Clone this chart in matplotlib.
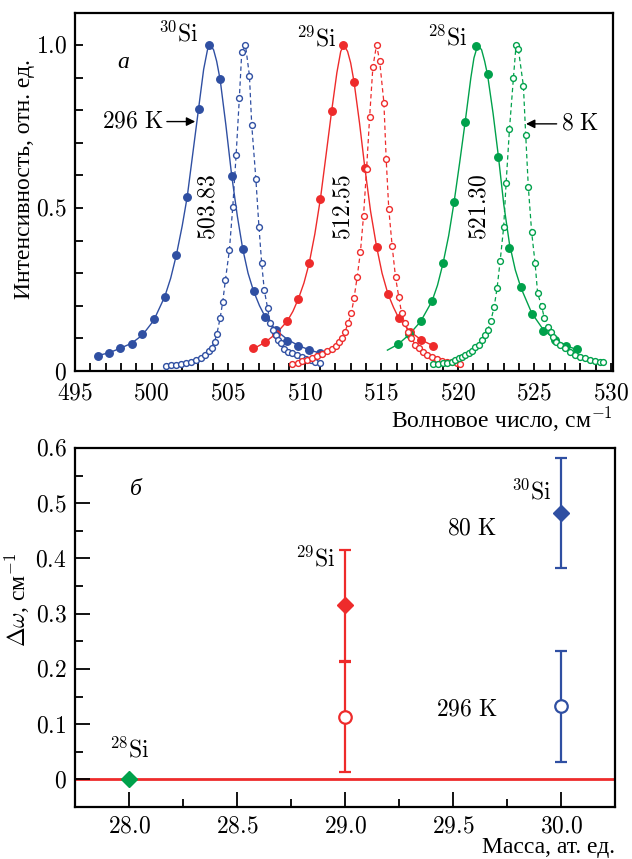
import matplotlib
matplotlib.use("Agg")
import matplotlib.pyplot as plt
from matplotlib.ticker import MultipleLocator, FixedLocator, FuncFormatter

plt.rcParams['mathtext.fontset'] = 'cm'
plt.rcParams['font.family'] = ['Liberation Serif', 'DejaVu Serif']

# ---------------- data: panel (a) ----------------
si30_296_x = [496.47, 497.23, 497.97, 498.69, 499.40, 500.14, 500.86, 501.62, 502.33, 503.07,
              503.78, 504.48, 505.23, 505.95, 506.66, 507.41, 508.12, 508.86, 509.59, 510.29, 510.98]
si30_296_y = [0.047, 0.056, 0.072, 0.083, 0.112, 0.158, 0.226, 0.356, 0.533, 0.804,
              1.000, 0.895, 0.598, 0.373, 0.245, 0.167, 0.126, 0.093, 0.077, 0.064, 0.054]
si30_fit_x = [496.47, 497.23, 497.97, 498.69, 499.40, 500.14, 500.86, 501.25, 501.62, 502.00,
              502.33, 502.70, 503.07, 503.40, 503.65, 503.83, 504.05, 504.25, 504.48, 504.85,
              505.23, 505.60, 505.95, 506.30, 506.66, 507.05, 507.41, 508.12, 508.86, 509.59,
              510.29, 510.98]
si30_fit_y = [0.047, 0.056, 0.070, 0.085, 0.110, 0.155, 0.228, 0.285, 0.356, 0.445,
              0.535, 0.670, 0.805, 0.925, 0.985, 1.000, 0.985, 0.950, 0.893, 0.755,
              0.600, 0.475, 0.375, 0.300, 0.245, 0.200, 0.167, 0.125, 0.097, 0.078,
              0.065, 0.055]
si30_8_x = [500.96, 501.29, 501.62, 501.94, 502.27, 502.59, 502.92, 503.24, 503.50, 503.72,
            503.92, 504.11, 504.26, 504.48, 504.65, 504.82, 505.08, 505.30, 505.52, 505.73,
            505.89, 506.13, 506.39, 506.54, 506.81, 507.01, 507.19, 507.36, 507.58, 507.75,
            507.95, 508.12, 508.27, 508.45, 508.66, 508.90, 509.20, 509.50, 509.80, 510.10,
            510.40, 510.70, 510.98]
si30_8_y = [0.015, 0.017, 0.019, 0.021, 0.024, 0.028, 0.033, 0.040, 0.049, 0.060,
            0.072, 0.090, 0.113, 0.163, 0.213, 0.279, 0.370, 0.502, 0.662, 0.836,
            0.979, 1.000, 0.906, 0.755, 0.589, 0.443, 0.330, 0.248, 0.192, 0.146,
            0.126, 0.110, 0.095, 0.085, 0.067, 0.058, 0.054, 0.048, 0.043, 0.038,
            0.033, 0.029, 0.025]

si29_296_x = [506.65, 507.41, 508.12, 508.86, 509.59, 510.29, 511.03, 511.76, 512.50, 513.22,
              513.93, 514.69, 515.43, 516.14, 516.88, 517.62, 518.36]
si29_296_y = [0.070, 0.090, 0.113, 0.153, 0.222, 0.330, 0.529, 0.798, 1.000, 0.887,
              0.622, 0.381, 0.236, 0.162, 0.121, 0.095, 0.078]
si29_fit_x = [506.65, 507.41, 508.12, 508.86, 509.23, 509.59, 509.95, 510.29, 510.66, 511.03,
              511.40, 511.76, 512.10, 512.35, 512.55, 512.80, 513.00, 513.22, 513.58, 513.93,
              514.30, 514.69, 515.05, 515.43, 515.80, 516.14, 516.88, 517.62, 518.36, 518.50]
si29_fit_y = [0.068, 0.088, 0.114, 0.153, 0.183, 0.222, 0.270, 0.330, 0.420, 0.530,
              0.665, 0.798, 0.915, 0.980, 1.000, 0.980, 0.945, 0.887, 0.760, 0.622,
              0.490, 0.382, 0.300, 0.237, 0.195, 0.162, 0.121, 0.095, 0.078, 0.075]
si29_8_x = [509.20, 509.53, 509.85, 510.18, 510.50, 510.83, 511.16, 511.48, 511.81, 512.06,
            512.26, 512.46, 512.63, 512.83, 513.05, 513.22, 513.42, 513.64, 513.84, 514.04,
            514.24, 514.45, 514.69, 514.89, 515.17, 515.32, 515.49, 515.71, 515.93, 516.14,
            516.32, 516.53, 516.75, 516.97, 517.23, 517.45, 517.71, 517.98, 518.31, 518.64,
            518.96, 519.29, 519.61, 519.94, 520.16]
si29_8_y = [0.021, 0.025, 0.030, 0.034, 0.039, 0.045, 0.052, 0.060, 0.068, 0.078,
            0.088, 0.100, 0.121, 0.146, 0.179, 0.223, 0.287, 0.366, 0.476, 0.620,
            0.780, 0.932, 1.000, 0.952, 0.823, 0.649, 0.496, 0.383, 0.287, 0.228,
            0.179, 0.146, 0.121, 0.100, 0.080, 0.070, 0.059, 0.049, 0.042, 0.036,
            0.032, 0.029, 0.027, 0.024, 0.021]

si28_296_x = [516.10, 516.83, 517.57, 518.31, 519.03, 519.75, 520.48, 521.20, 521.94, 522.65,
              523.37, 524.12, 524.82, 525.56, 526.32, 527.05, 527.75]
si28_296_y = [0.082, 0.113, 0.152, 0.214, 0.330, 0.517, 0.765, 0.998, 0.911, 0.657,
              0.378, 0.259, 0.175, 0.124, 0.095, 0.077, 0.066]
si28_fit_x = [515.40, 516.10, 516.83, 517.57, 518.31, 518.67, 519.03, 519.40, 519.75, 520.12,
              520.48, 520.85, 521.05, 521.30, 521.55, 521.75, 521.94, 522.30, 522.65, 523.00,
              523.37, 523.75, 524.12, 524.82, 525.56, 526.32, 527.05, 527.75, 528.00]
si28_fit_y = [0.064, 0.082, 0.112, 0.152, 0.214, 0.263, 0.330, 0.415, 0.517, 0.640,
              0.765, 0.900, 0.960, 1.000, 0.985, 0.950, 0.908, 0.790, 0.657, 0.510,
              0.390, 0.310, 0.255, 0.178, 0.128, 0.097, 0.078, 0.066, 0.062]
si28_8_x = [518.40, 518.70, 519.00, 519.30, 519.61, 519.83, 520.05, 520.26, 520.48, 520.70,
            520.91, 521.13, 521.35, 521.57, 521.78, 521.95, 522.15, 522.37, 522.56, 522.76,
            522.99, 523.15, 523.37, 523.63, 523.80, 523.95, 524.28, 524.43, 524.60, 524.82,
            525.04, 525.21, 525.47, 525.64, 525.86, 526.08, 526.23, 526.44, 526.66, 526.99,
            527.31, 527.64, 527.96, 528.29, 528.61, 528.94, 529.26, 529.48]
si28_8_y = [0.021, 0.022, 0.024, 0.026, 0.029, 0.034, 0.039, 0.044, 0.049, 0.054,
            0.062, 0.073, 0.080, 0.095, 0.110, 0.126, 0.153, 0.197, 0.254, 0.337,
            0.441, 0.576, 0.742, 0.900, 1.000, 0.987, 0.874, 0.724, 0.565, 0.425,
            0.332, 0.238, 0.199, 0.163, 0.136, 0.121, 0.105, 0.090, 0.080, 0.070,
            0.059, 0.049, 0.044, 0.039, 0.034, 0.031, 0.029, 0.027]

peak_positions = [503.78, 512.57, 521.46]
peak_labels = ['503.83', '512.55', '521.30']

# ---------------- data: panel (b) ----------------
mass_80 = [29.0, 30.0]
dw_80 = [0.315, 0.482]
dw_80_err = [0.10, 0.10]
mass_296 = [29.0, 30.0]
dw_296 = [0.113, 0.132]
dw_296_err = [0.10, 0.10]
mass_ref = [28.0]
dw_ref = [0.0]

BLUE = '#2F4FA2'
RED = '#EE2B2B'
GREEN = '#00A14B'

fig = plt.figure(figsize=(6.32, 8.59), dpi=100)
ax1 = fig.add_axes([75/632, 1 - 371/859, 538/632, 358/859])
ax2 = fig.add_axes([75/632, 1 - 807/859, 540/632, 359/859])

TICK_FS = 17
TXT_FS = 17

def math_fmt(dec):
    def f(v, pos):
        if abs(v) < 1e-9:
            return '$0$'
        return '$' + ('%.' + str(dec) + 'f') % v + '$'
    return FuncFormatter(f)

for ax in (ax1, ax2):
    for s in ax.spines.values():
        s.set_linewidth(1.6)
    ax.tick_params(which='both', direction='in', top=False, right=False,
                   labelsize=TICK_FS, width=1.3, pad=6)

# ---- panel a ----
for fx, fy, px, py, ox, oy, c in [
        (si30_fit_x, si30_fit_y, si30_296_x, si30_296_y, si30_8_x, si30_8_y, BLUE),
        (si29_fit_x, si29_fit_y, si29_296_x, si29_296_y, si29_8_x, si29_8_y, RED),
        (si28_fit_x, si28_fit_y, si28_296_x, si28_296_y, si28_8_x, si28_8_y, GREEN)]:
    ax1.plot(fx, fy, '-', color=c, lw=1.0, zorder=2)
    ax1.plot(px, py, 'o', color=c, ms=5.4, zorder=3)
    ax1.plot(ox, oy, '--', color=c, lw=0.9, dashes=(3.5, 2.5), zorder=2)
    ax1.plot(ox, oy, 'o', mfc='white', mec=c, ms=4.2, mew=1.0, zorder=4)

ax1.set_xlim(495, 530.13)
ax1.set_ylim(0, 1.098)
ax1.xaxis.set_major_locator(MultipleLocator(5))
ax1.xaxis.set_minor_locator(MultipleLocator(1))
ax1.yaxis.set_major_locator(FixedLocator([0, 0.5, 1.0]))
ax1.yaxis.set_minor_locator(MultipleLocator(0.1))
ax1.xaxis.set_major_formatter(FuncFormatter(lambda v, p: '$%d$' % round(v)))
ax1.yaxis.set_major_formatter(math_fmt(1))
ax1.tick_params(which='both', length=6)
ax1.tick_params(axis='x', pad=9)

for x, lab in zip(peak_positions, peak_labels):
    ax1.text(x, 0.503, '$' + lab + '$', rotation=90, ha='center', va='center',
             fontsize=TICK_FS)

ax1.text(503.05, 1.034, r'$^{30}\mathrm{Si}$', ha='right', va='center', fontsize=TICK_FS)
ax1.text(512.02, 1.018, r'$^{29}\mathrm{Si}$', ha='right', va='center', fontsize=TICK_FS)
ax1.text(520.59, 1.023, r'$^{28}\mathrm{Si}$', ha='right', va='center', fontsize=TICK_FS)
ax1.text(498.12, 0.945, 'а', style='italic', ha='center', va='center', fontsize=TXT_FS)

ax1.annotate('', xy=(502.85, 0.765), xytext=(501.0, 0.765),
             arrowprops=dict(arrowstyle='-|>', color='black', lw=1.0, mutation_scale=13,
                             shrinkA=0, shrinkB=0))
ax1.text(500.8, 0.765, r'$296\ \mathrm{K}$', ha='right', va='center', fontsize=TICK_FS)
ax1.annotate('', xy=(524.45, 0.758), xytext=(526.45, 0.758),
             arrowprops=dict(arrowstyle='-|>', color='black', lw=1.0, mutation_scale=13,
                             shrinkA=0, shrinkB=0))
ax1.text(526.75, 0.758, r'$8\ \mathrm{K}$', ha='left', va='center', fontsize=TICK_FS)

ax1.text(1.0, -0.095, 'Волновое число, см$^{-1}$', transform=ax1.transAxes,
         ha='right', va='top', fontsize=TXT_FS)
ax1.set_ylabel('Интенсивность, отн. ед.', fontsize=TXT_FS)
ax1.yaxis.set_label_coords(-0.074, 0.535)

# ---- panel b ----
ax2.axhline(0, color=RED, lw=2.0, zorder=1)
ax2.errorbar(mass_80[:1], dw_80[:1], yerr=dw_80_err[:1], fmt='D', color=RED, ms=8.5,
             capsize=4.5, elinewidth=1.6, capthick=1.6, zorder=3)
ax2.errorbar(mass_80[1:], dw_80[1:], yerr=dw_80_err[1:], fmt='D', color=BLUE, ms=8.5,
             capsize=4.5, elinewidth=1.6, capthick=1.6, zorder=3)
ax2.errorbar(mass_296[:1], dw_296[:1], yerr=dw_296_err[:1], fmt='o', color=RED, mfc='white',
             mec=RED, mew=1.6, ms=9, capsize=4.5, elinewidth=1.6, capthick=1.6, zorder=3)
ax2.errorbar(mass_296[1:], dw_296[1:], yerr=dw_296_err[1:], fmt='o', color=BLUE, mfc='white',
             mec=BLUE, mew=1.6, ms=9, capsize=4.5, elinewidth=1.6, capthick=1.6, zorder=3)
ax2.plot(mass_ref, dw_ref, 'D', color=GREEN, ms=8, zorder=4)

ax2.set_xlim(27.75, 30.25)
ax2.set_ylim(-0.05, 0.6)
ax2.xaxis.set_major_locator(MultipleLocator(0.5))
ax2.xaxis.set_minor_locator(MultipleLocator(0.25))
ax2.yaxis.set_major_locator(MultipleLocator(0.1))
ax2.yaxis.set_minor_locator(MultipleLocator(0.05))
ax2.xaxis.set_major_formatter(math_fmt(1))
ax2.yaxis.set_major_formatter(math_fmt(1))
ax2.tick_params(which='major', length=11)
ax2.tick_params(which='minor', length=6)
ax2.tick_params(axis='x', pad=7)

ax2.text(28.03, 0.524, 'б', style='italic', ha='center', va='center', fontsize=TXT_FS)
ax2.text(28.0, 0.054, r'$^{28}\mathrm{Si}$', ha='center', va='center', fontsize=TICK_FS)
ax2.text(28.86, 0.40, r'$^{29}\mathrm{Si}$', ha='center', va='center', fontsize=TICK_FS)
ax2.text(29.86, 0.521, r'$^{30}\mathrm{Si}$', ha='center', va='center', fontsize=TICK_FS)
ax2.text(29.705, 0.453, r'$80\ \mathrm{K}$', ha='right', va='center', fontsize=TICK_FS)
ax2.text(29.705, 0.126, r'$296\ \mathrm{K}$', ha='right', va='center', fontsize=TICK_FS)

ax2.text(1.0, -0.083, 'Масса, ат. ед.', transform=ax2.transAxes,
         ha='right', va='top', fontsize=TXT_FS)
ax2.set_ylabel(r'$\Delta\omega$, см$^{-1}$', fontsize=TXT_FS)
ax2.yaxis.set_label_coords(-0.08, 0.577)

fig.savefig('out.png', dpi=100)
